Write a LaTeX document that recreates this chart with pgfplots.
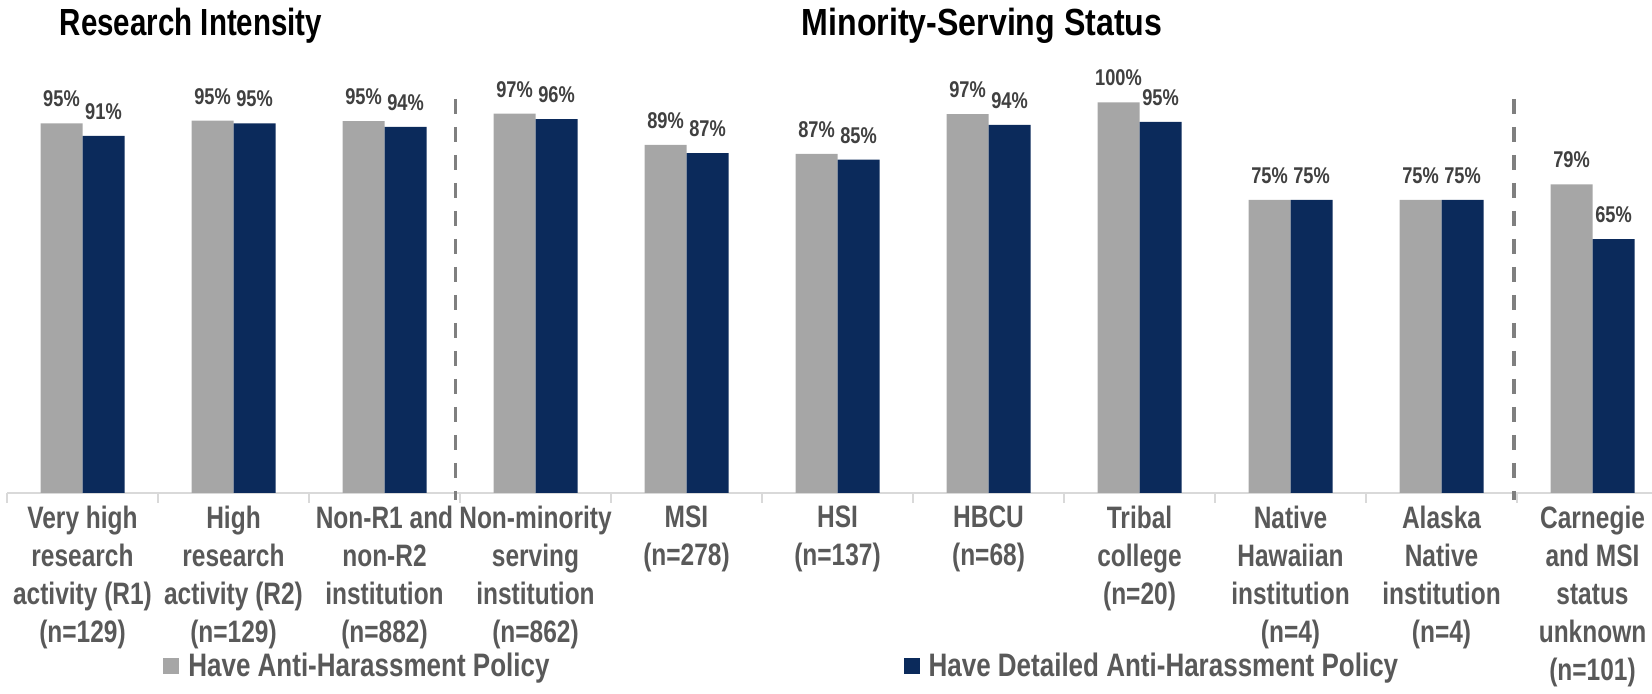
\documentclass[border=0pt]{standalone}
\usepackage{pgfplots}
\pgfplotsset{compat=1.18}
\usepackage{pgfplotstable}
\usepackage{fontspec}
\setmainfont{Liberation Sans}
\newfontfamily\condfont{Liberation Sans}[FakeStretch=0.8]
\newfontfamily\catfont{Liberation Sans}[FakeStretch=0.79]
\newfontfamily\titlefont{Liberation Sans}[FakeStretch=0.78]
\newfontfamily\titlefontb{Liberation Sans}[FakeStretch=0.85]
\definecolor{barGray}{HTML}{A6A6A6}
\definecolor{barNavy}{HTML}{0B2A5B}
\definecolor{labelInk}{HTML}{404040}
\definecolor{catInk}{HTML}{595959}
\definecolor{axisLine}{HTML}{D9D9D9}
\definecolor{sepGray}{HTML}{7F7F7F}

% share of institutions (percent)
\pgfplotstableread{
x  policy  detailed
0  94.6    91.4
1  95.3    94.6
2  95.2    93.7
3  97.1    95.7
4  89.1    87.0
5  86.8    85.3
6  97.0    94.2
7  100     95.0
8  75      75
9  75      75
10 79.0    65.0
}\rates

\begin{document}
\begin{tikzpicture}
\path[use as bounding box] (0,0) rectangle (826pt,347pt);
\begin{axis}[
  at={(3.5pt,100.5pt)}, anchor=south west,
  scale only axis, width=822.5pt, height=195.35pt,
  xmin=-0.5, xmax=10.394, ymin=0, ymax=100,
  enlargelimits=false, clip=false,
  axis x line*=bottom, axis y line=none,
  x axis line style={axisLine, line width=1pt},
  ytick=\empty,
  xtick={0,...,10},
  xticklabels={
    {Very high\\research\\activity (R1)\\(n=129)},
    {High\\research\\activity (R2)\\(n=129)},
    {Non-R1 and\\non-R2\\institution\\(n=882)},
    {Non-minority\\serving\\institution\\(n=862)},
    {MSI\\(n=278)},
    {HSI\\(n=137)},
    {HBCU\\(n=68)},
    {Tribal\\college\\(n=20)},
    {Native\\Hawaiian\\institution\\(n=4)},
    {Alaska\\Native\\institution\\(n=4)},
    {Carnegie\\and MSI\\status\\unknown\\(n=101)}},
  minor xtick={-0.5,0.5,...,9.5},
  major tick length=0pt, minor tick length=5pt, tick align=outside,
  tick style={axisLine, line width=1pt},
  xticklabel style={font=\catfont\bfseries\fontsize{15.5}{19}\selectfont,
    text=catInk, align=center, anchor=north, inner sep=0pt, yshift=-6.2pt},
  ybar=0pt, bar width=21pt,
  nodes near coords={\pgfmathprintnumber[fixed,precision=0,assume math mode=true]{\pgfplotspointmeta}\%},
  every node near coord/.append style={font=\condfont\bfseries\fontsize{11.4}{13}\selectfont,
    text=labelInk, anchor=base, yshift=8.25pt, inner sep=0pt},
  legend columns=2, legend cell align=left,
  legend image code/.code={\fill[#1, draw=none] (0pt,-4pt) rectangle (8pt,4pt);},
  legend style={at={(0.0948,-0.443)}, anchor=west, draw=none, fill=none, inner sep=0pt,
    font=\condfont\bfseries\fontsize{16.25}{18}\selectfont, text=catInk,
    nodes={inner sep=0pt},
    /tikz/every odd column/.append style={column sep=4.5pt},
    /tikz/every even column/.append style={column sep=177pt}},
]
\addplot[fill=barGray, draw=none] table[x=x, y=policy] {\rates};
\addlegendentry{Have Anti-Harassment Policy}
\addplot[fill=barNavy, draw=none] table[x=x, y=detailed] {\rates};
\addlegendentry{Have Detailed Anti-Harassment Policy}

% group separators
\draw[sepGray, line width=1.7pt, dash pattern=on 7.5pt off 6.5pt]
  (axis cs:2.47,100.9) -- (axis cs:2.47,-1.8);
\draw[sepGray, line width=1.7pt, dash pattern=on 7.5pt off 6.5pt]
  (axis cs:9.48,100.9) -- (axis cs:9.48,-1.8);
\end{axis}

\node[font=\titlefont\bfseries\fontsize{18.9}{22}\selectfont, anchor=base]
  at (95.5pt,329pt) {Research Intensity};
\node[font=\titlefontb\bfseries\fontsize{18.9}{22}\selectfont, anchor=base]
  at (491pt,329pt) {Minority-Serving Status};
\end{tikzpicture}
\end{document}
